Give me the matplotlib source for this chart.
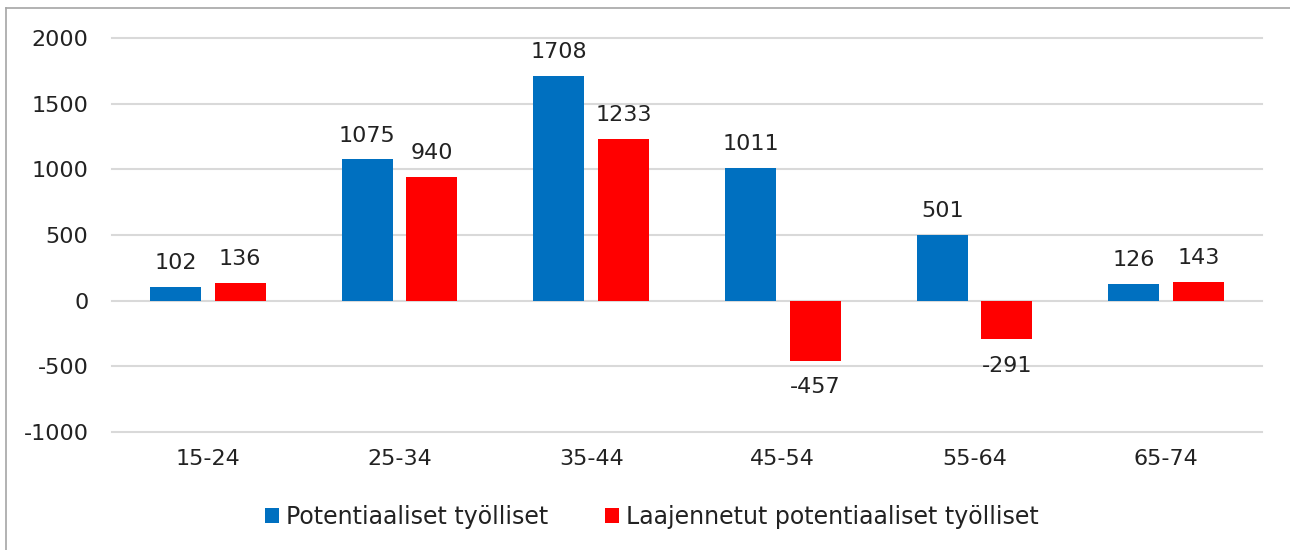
import numpy as np
import matplotlib.pyplot as plt
from matplotlib.lines import Line2D

plt.rcParams['font.family'] = ['DejaVu Sans']
plt.rcParams['axes.unicode_minus'] = False

categories = ['15-24', '25-34', '35-44', '45-54', '55-64', '65-74']
potential = [102, 1075, 1708, 1011, 501, 126]
extended = [136, 940, 1233, -457, -291, 143]
series_names = ['Potentiaaliset työlliset', 'Laajennetut potentiaaliset työlliset']

W, H = 1290, 550
fs = 16
fig = plt.figure(figsize=(W / 100, H / 100), dpi=100)
ax = fig.add_axes([112 / W, 1 - 432 / H, (1262 - 112) / W, (432 - 38) / H])

x = np.arange(len(categories))
bw = 0.266
off = 0.168
b1 = ax.bar(x - off, potential, bw, color='#0070C0', zorder=3)
b2 = ax.bar(x + off, extended, bw, color='#FF0000', zorder=3)

for bars, vals in [(b1, potential), (b2, extended)]:
    for rect, v in zip(bars, vals):
        cx = rect.get_x() + rect.get_width() / 2
        if v >= 0:
            ax.annotate(str(v), (cx, v), xytext=(0, 10), textcoords='offset points',
                        ha='center', va='bottom', fontsize=fs, color='#222222')
        else:
            ax.annotate(str(v), (cx, v), xytext=(0, -12), textcoords='offset points',
                        ha='center', va='top', fontsize=fs, color='#222222')

ax.set_xlim(-0.5, len(categories) - 0.5)
ax.set_ylim(-1000, 2000)
ax.set_yticks(np.arange(-1000, 2001, 500))
ax.set_xticks(x)
ax.set_xticklabels(categories)
ax.tick_params(axis='both', length=0, labelsize=fs, colors='#222222')
ax.tick_params(axis='y', pad=17)
ax.tick_params(axis='x', pad=12)
ax.grid(axis='y', color='#d9d9d9', linewidth=1.5, zorder=0)
for gl in ax.get_ygridlines():
    gl.set_clip_on(False)
for s in ax.spines.values():
    s.set_visible(False)

fig.legend([b1, b2], series_names, loc='center', bbox_to_anchor=(652 / W, 1 - 517 / H),
           ncol=2, frameon=False, fontsize=17, handlelength=0.6, handleheight=0.6,
           handletextpad=0.3, columnspacing=2.4, labelcolor='#222222')

# outer chart frame (cut at right and bottom)
fig.add_artist(Line2D([6 / W, 6 / W], [0, 1 - 8 / H], color='#a6a6a6', linewidth=1.2))
fig.add_artist(Line2D([6 / W, 1], [1 - 8 / H, 1 - 8 / H], color='#a6a6a6', linewidth=1.2))

fig.savefig('out.png', dpi=100)
